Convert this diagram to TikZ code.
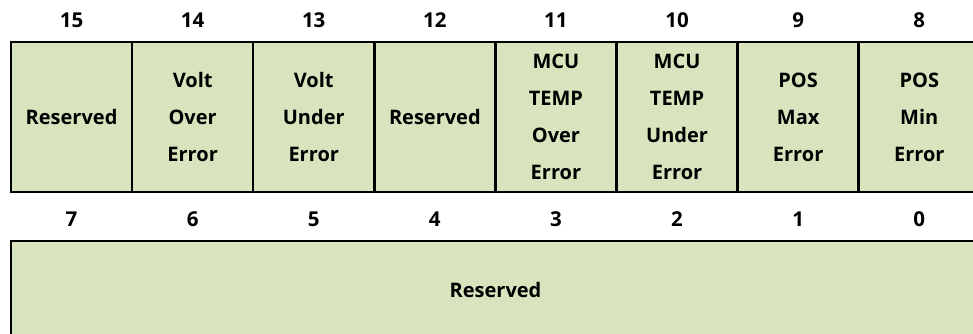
\documentclass[tikz,border=0pt]{standalone}
\usepackage{fontspec}
\setmainfont{Open Sans}
\definecolor{cellgreen}{HTML}{D7E4BD}
\begin{document}
\begin{tikzpicture}[x=1pt,y=-1pt,
  cell/.style={draw=black, line width=2.5pt, fill=cellgreen, minimum width=121.1pt,
    minimum height=150pt, inner sep=0pt, outer sep=0pt, anchor=north west,
    align=center, font=\bfseries\fontsize{20}{37}\selectfont},
  widecell/.style={cell, minimum width=969pt, minimum height=98pt},
  bitnum/.style={font=\bfseries\fontsize{20.5}{22}\selectfont, inner sep=0pt}]
\useasboundingbox (0,0) rectangle (973,334);
\clip (0,0) rectangle (973,334);
\fill[white] (0,0) rectangle (973,334);
% top row cells
\node[cell] (b15) at (11,42) {Reserved};
\node[cell] (b14) at (132.1,42) {Volt\\Over\\Error};
\node[cell] (b13) at (253.2,42) {Volt\\Under\\Error};
\node[cell] (b12) at (374.3,42) {Reserved};
\node[cell] (b11) at (495.4,42) {MCU\\TEMP\\Over\\Error};
\node[cell] (b10) at (616.5,42) {MCU\\TEMP\\Under\\Error};
\node[cell] (b9) at (737.6,42) {POS\\Max\\Error};
\node[cell] (b8) at (858.7,42) {POS\\Min\\Error};
% bottom row
\node[widecell] (low) at (11,241) {Reserved};
% bit numbers
\foreach \i/\hi/\lo in {0/15/7,1/14/6,2/13/5,3/12/4,4/11/3,5/10/2,6/9/1,7/8/0}{
  \node[bitnum] (n\hi) at (71.5+121.1*\i,20) {\hi};
  \node[bitnum] (n\lo) at (71.5+121.1*\i,219) {\lo};
}
\end{tikzpicture}
\end{document}
